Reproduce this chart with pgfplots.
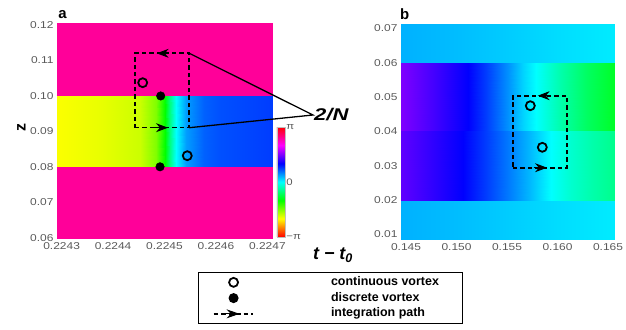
\documentclass[border=0pt]{standalone}
\usepackage{fontspec}
\setmainfont{Liberation Sans}
\newfontfamily\tickfont[FakeStretch=1.2]{Liberation Sans}
\newfontfamily\widefont[FakeStretch=1.3]{Liberation Sans}
\usepackage{pgfplots}
\pgfplotsset{compat=1.18}
\usetikzlibrary{arrows.meta}
\pgfplotsset{
  colormap={phase}{rgb255=(255,0,0) rgb255=(255,255,0) rgb255=(0,255,0) rgb255=(0,255,255) rgb255=(0,0,255) rgb255=(255,0,255) rgb255=(255,0,0)},
  panel/.style={scale only axis, width=215bp, height=215bp,
    scaled ticks=false, clip=false,
    axis line style={black!30, line width=0.4pt},
    tick style={draw=none},
    ticklabel style={font=\tickfont\fontsize{10}{12}\selectfont, text=black!65},
    xticklabel style={yshift=-1.5pt},
    point meta min=-3.14159, point meta max=3.14159,
    colormap name=phase},
  band/.style={surf, shader=interp, mesh/rows=2, point meta=explicit, forget plot},
  path/.style={black, line width=1.6pt, dash pattern=on 4.5pt off 3pt, forget plot},
  arr/.style={black, line width=1pt, -{Stealth[length=12pt,width=9pt]}, forget plot},
  omark/.style={only marks, mark=o, mark size=4.5pt, line width=1.8pt, black, forget plot},
}
\begin{document}
\begin{tikzpicture}[x=1bp,y=1bp]
\path[use as bounding box] (0,0) rectangle (626,329);
% ---------------- panel a ----------------
\begin{axis}[panel, at={(57bp,91bp)}, anchor=south west,
  xmin=0.224291, xmax=0.224709, ymin=0.0599, ymax=0.1206,
  xtick={0.2243,0.2244,0.2245,0.2246,0.2247},
  xticklabels={0.2243,0.2244,0.2245,0.2246,0.2247},
  ytick={0.06,0.07,0.08,0.09,0.10,0.11,0.12},
  yticklabels={0.06,0.07,0.08,0.09,0.10,0.11,0.12},
  colorbar,
  colorbar style={at={(1.023,0.005)}, anchor=south west, width=8bp, height=110bp,
    scale only axis, axis line style={black!25}, tick style={draw=none},
    ytick={-3.14159,0,3.14159}, yticklabels={−π,0,π},
    yticklabel style={font=\tickfont\fontsize{9.5}{11}\selectfont, text=black!65, xshift=-2pt}},
  legend style={at={(0.6558,-0.1581)}, anchor=north west, draw=black, line width=1.4pt,
    inner xsep=0pt, inner ysep=3pt, row sep=2.4pt,
    font=\fontsize{12.5}{14}\bfseries\selectfont,
    nodes={inner sep=0.8pt, text height=9pt, text depth=2.8pt}},
  legend cell align=left,
]
\addplot[band] table[x=x,y=y,meta=c] {
x y c
0.224291 0.0599 2.513
0.224709 0.0599 2.513
0.224291 0.08 2.513
0.224709 0.08 2.513
};
\addplot[band] table[x=x,y=y,meta=c] {
x y c
0.224291 0.10 2.513
0.224709 0.10 2.513
0.224291 0.1206 2.513
0.224709 0.1206 2.513
};
\addplot[band] table[x=x,y=y,meta=c] {
x y c
0.224291 0.08 -2.08
0.2243785 0.08 -2.00
0.2244516 0.08 -1.88
0.2244830 0.08 -1.57
0.2245008 0.08 -1.047
0.2245113 0.08 -0.50
0.2245216 0.08 0.0
0.2245416 0.08 0.40
0.2245770 0.08 0.65
0.2246084 0.08 0.72
0.224709 0.08 0.80
0.224291 0.10 -2.08
0.2243785 0.10 -2.00
0.2244516 0.10 -1.88
0.2244830 0.10 -1.57
0.2245008 0.10 -1.047
0.2245113 0.10 -0.50
0.2245216 0.10 0.0
0.2245416 0.10 0.40
0.2245770 0.10 0.65
0.2246084 0.10 0.72
0.224709 0.10 0.80
};
% integration path
\addplot[path] coordinates {(0.2244426,0.091041) (0.2245482,0.091041) (0.2245482,0.112046) (0.2244426,0.112046) (0.2244426,0.091041)};
\addplot[arr] coordinates {(0.2245043,0.112046) (0.2244848,0.112046)};
\addplot[arr] coordinates {(0.2244796,0.091041) (0.2245068,0.091041)};
% annotation lines
\addplot[black, line width=1.3pt, forget plot] coordinates {(0.2245482,0.112046) (0.2247887,0.094626) (0.2245482,0.091041)};
% vortices
\addplot[omark] coordinates {(0.2244576,0.103745) (0.2245443,0.083135)};
\addplot[only marks, mark=*, mark size=4.3pt, black, forget plot] coordinates {(0.2244926,0.100) (0.2244913,0.080)};
% legend
\addlegendimage{legend image code/.code={\path[draw=none,fill=none] (0pt,-5pt) rectangle (132pt,5pt);
  \draw[black, line width=1.8pt, mark=o, mark size=4.5pt] plot coordinates {(35pt,0pt)};}}
\addlegendentry{continuous vortex\hspace*{23pt}}
\addlegendimage{legend image code/.code={\path[draw=none,fill=none] (0pt,-5pt) rectangle (132pt,5pt);
  \fill[black, mark=*, mark size=4.3pt] plot coordinates {(35pt,0pt)};}}
\addlegendentry{discrete vortex}
\addlegendimage{legend image code/.code={\path[draw=none,fill=none] (0pt,-5pt) rectangle (132pt,5pt);
  \draw[black, line width=1.6pt, dash pattern=on 4.5pt off 3pt] (15pt,0) -- (54pt,0);
  \draw[black, line width=1pt, -{Stealth[length=13pt,width=9pt]}] (27pt,0) -- (41pt,0);}}
\addlegendentry{integration path}
\node[anchor=west, font=\widefont\fontsize{17}{20}\bfseries\itshape\selectfont, inner sep=1pt] at (axis cs:0.2247887,0.094626) {2/N};
\node[anchor=south west, inner sep=0pt, font=\fontsize{15}{17}\bfseries\selectfont] at (axis description cs:0.005,1.018) {a};
\node[rotate=90, font=\fontsize{16}{18}\bfseries\selectfont] at (axis description cs:-0.165,0.512) {z};
\end{axis}
% ---------------- panel b ----------------
\begin{axis}[panel, at={(401bp,90bp)}, anchor=south west,
  width=213bp,
  xmin=0.144505, xmax=0.165594, ymin=0.00866, ymax=0.07128,
  xtick={0.145,0.150,0.155,0.160,0.165},
  xticklabels={0.145,0.150,0.155,0.160,0.165},
  ytick={0.01,0.02,0.03,0.04,0.05,0.06,0.07},
  yticklabels={0.01,0.02,0.03,0.04,0.05,0.06,0.07},
]
\addplot[band] table[x=x,y=y,meta=c] {
x y c
0.144505 0.00866 0.32
0.150 0.00866 0.27
0.155 0.00866 0.21
0.160 0.00866 0.14
0.165594 0.00866 0.08
0.144505 0.02 0.32
0.150 0.02 0.27
0.155 0.02 0.21
0.160 0.02 0.14
0.165594 0.02 0.08
};
\addplot[band] table[x=x,y=y,meta=c] {
x y c
0.144505 0.06 0.32
0.150 0.06 0.27
0.155 0.06 0.21
0.160 0.06 0.14
0.165594 0.06 0.08
0.144505 0.07128 0.32
0.150 0.07128 0.27
0.155 0.07128 0.21
0.160 0.07128 0.14
0.165594 0.07128 0.08
};
\addplot[band] table[x=x,y=y,meta=c] {
x y c
0.144505 0.04 1.57
0.147668 0.04 1.33
0.151148 0.04 1.047
0.152941 0.04 0.80
0.155050 0.04 0.45
0.156631 0.04 0.18
0.157897 0.04 0.0
0.160322 0.04 -0.35
0.162958 0.04 -0.65
0.165594 0.04 -0.88
0.144505 0.06 1.57
0.147668 0.06 1.33
0.151148 0.06 1.047
0.152941 0.06 0.80
0.155050 0.06 0.45
0.156631 0.06 0.18
0.157897 0.06 0.0
0.160322 0.06 -0.35
0.162958 0.06 -0.65
0.165594 0.06 -0.88
};
\addplot[band] table[x=x,y=y,meta=c] {
x y c
0.144505 0.02 1.44
0.147668 0.02 1.24
0.150621 0.02 1.047
0.152941 0.02 0.80
0.155050 0.02 0.55
0.157159 0.02 0.30
0.159373 0.02 0.0
0.161376 0.02 -0.20
0.163485 0.02 -0.35
0.165594 0.02 -0.47
0.144505 0.04 1.44
0.147668 0.04 1.24
0.150621 0.04 1.047
0.152941 0.04 0.80
0.155050 0.04 0.55
0.157159 0.04 0.30
0.159373 0.04 0.0
0.161376 0.04 -0.20
0.163485 0.04 -0.35
0.165594 0.04 -0.47
};
\addplot[path] coordinates {(0.155594,0.029422) (0.160941,0.029422) (0.160941,0.050394) (0.155594,0.050394) (0.155594,0.029422)};
\addplot[arr] coordinates {(0.159257,0.050394) (0.158040,0.050394)};
\addplot[arr] coordinates {(0.157644,0.029422) (0.158960,0.029422)};
\addplot[omark] coordinates {(0.157307,0.04748) (0.158495,0.035364)};
\node[anchor=south west, inner sep=0pt, font=\fontsize{15}{17}\bfseries\selectfont] at (axis description cs:-0.005,1.018) {b};
\end{axis}
\node[font=\fontsize{18}{20}\bfseries\itshape\selectfont] at (333,74) {t − t\textsubscript{0}};
\end{tikzpicture}
\end{document}
